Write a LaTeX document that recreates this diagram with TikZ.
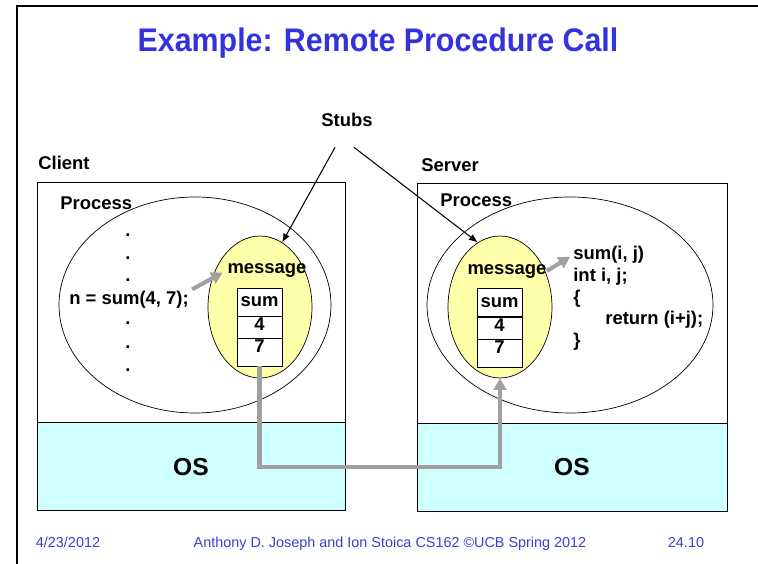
\documentclass[tikz,border=0pt]{standalone}
\usepackage{fontspec}
\setmainfont{Liberation Sans}
\newfontfamily\titlefont[FakeStretch = 0.93]{Liberation Sans}
\usetikzlibrary{shapes.geometric, arrows.meta}
\definecolor{titleblue}{RGB}{51,51,221}
\definecolor{footblue}{RGB}{51,68,204}
\definecolor{oscyan}{RGB}{208,255,255}
\definecolor{msgyellow}{RGB}{255,255,170}
\definecolor{pipegray}{RGB}{160,160,160}

\begin{document}
\begin{tikzpicture} [x = 0.02cm, y = -0.02cm,
  lbl/.style = {font = \fontsize{10.5}{12}\selectfont\bfseries, inner sep = 0pt},
  cell/.style = {draw, fill = white, inner sep = 0pt, minimum width = 0.9cm, font = \fontsize{10.5}{12}\selectfont\bfseries},
  msg/.style = {ellipse, draw, fill = msgyellow, minimum width = 2.08cm, minimum height = 2.84cm, inner sep = 0pt},
  pipe/.style = {draw = pipegray, line width = 2.3pt, -{Triangle[length = 6.5pt, width = 7pt]}},
  stub/.style = {line width = 0.6pt, -{Latex[length = 5pt, width = 4pt]}},
  os/.style = {font = \fontsize{14}{16}\selectfont\bfseries},
  foot/.style = {font = \fontsize{8.2}{10}\selectfont, text = footblue, inner sep = 0pt, anchor = base}]
\useasboundingbox (0, 0) rectangle (758, 564);
% slide frame and title
\draw[line width = 1.5pt] (17, 564) -- (17, 6) -- (758, 6);
\node[font = \titlefont\fontsize{18.6}{20}\selectfont\bfseries, text = titleblue, anchor = base] (title) at (378, 52) {Example: Remote Procedure Call};
% client side
\node[lbl, anchor = west] (client) at (38, 163) {Client};
\draw (37, 182) rectangle (345, 510);
\draw[fill = oscyan] (37, 422) rectangle (345, 510);
\node[os] (cos) at (191, 467) {OS};
\draw (195, 305) ellipse [x radius = 136, y radius = 108];
\node[lbl, anchor = west] (cproc) at (60, 203) {Process};
\foreach \y in {235, 258, 280, 323, 347, 370}
  \node[lbl] (cdot\y) at (128, \y) {.};
\node[lbl, anchor = west] (ncall) at (69, 300) {n = sum(4, 7);};
\node[msg] (cmsg) at (260, 307) {};
\node[lbl] (cmsglbl) at (267, 270) {message};
\node[cell, minimum height = 0.56cm] (csum) at (259.5, 302) {sum};
\node[cell, text height = 0.3cm, text depth = 0.14cm] (cfour) at (259.5, 327) {4};
\node[cell, text height = 0.295cm, text depth = 0.265cm] (cseven) at (259.5, 352) {7};
% server side
\node[lbl, anchor = west] (server) at (421, 165) {Server};
\draw (417, 183) rectangle (727, 511);
\draw[fill = oscyan] (417, 423) rectangle (727, 511);
\node[os] (sos) at (572, 467) {OS};
\draw (570, 305) ellipse [x radius = 143, y radius = 108];
\node[lbl, anchor = west] (sproc) at (440, 200) {Process};
\node[msg] (smsg) at (500, 307) {};
\node[lbl] (smsglbl) at (507, 271) {message};
\node[cell, minimum height = 0.56cm] (ssum) at (499.5, 302.5) {sum};
\node[cell, text height = 0.3cm, text depth = 0.14cm] (sfour) at (499.5, 328) {4};
\node[cell, text height = 0.295cm, text depth = 0.265cm] (sseven) at (499.5, 353) {7};
\node[lbl, anchor = west] (ssig) at (573, 255) {sum(i, j)};
\node[lbl, anchor = west] (sdecl) at (573, 277) {int i, j;};
\node[lbl, anchor = west] (sopen) at (573, 299) {\{};
\node[lbl, anchor = west] (sret) at (605, 320) {return (i+j);};
\node[lbl, anchor = west] (sclose) at (573, 342) {\}};
% stubs
\node[lbl, inner ysep = 11.5pt] (stubs) at (347, 120) {Stubs};
\draw[stub] ([xshift = -0.24cm] stubs.south) -- (cmsg.71);
\draw[stub] ([xshift = 0.14cm] stubs.south) -- (smsg.109);
% message path
\draw[pipe, shorten <= 2pt, shorten >= 3pt] (ncall.north east) -- (cmsglbl.west);
\draw[pipe, shorten >= 2pt] (smsglbl.east) -- (ssig.west);
\coordinate (wire) at (380, 467);
\draw[pipe] (cseven.south) |- (wire) -| (smsg.south);
% footer
\node[foot] (date) at (68, 547) {4/23/2012};
\node[foot] (credit) at (390, 547) {Anthony D. Joseph and Ion Stoica CS162 ©UCB Spring 2012};
\node[foot] (page) at (686, 547) {24.10};
\end{tikzpicture}
\end{document}
